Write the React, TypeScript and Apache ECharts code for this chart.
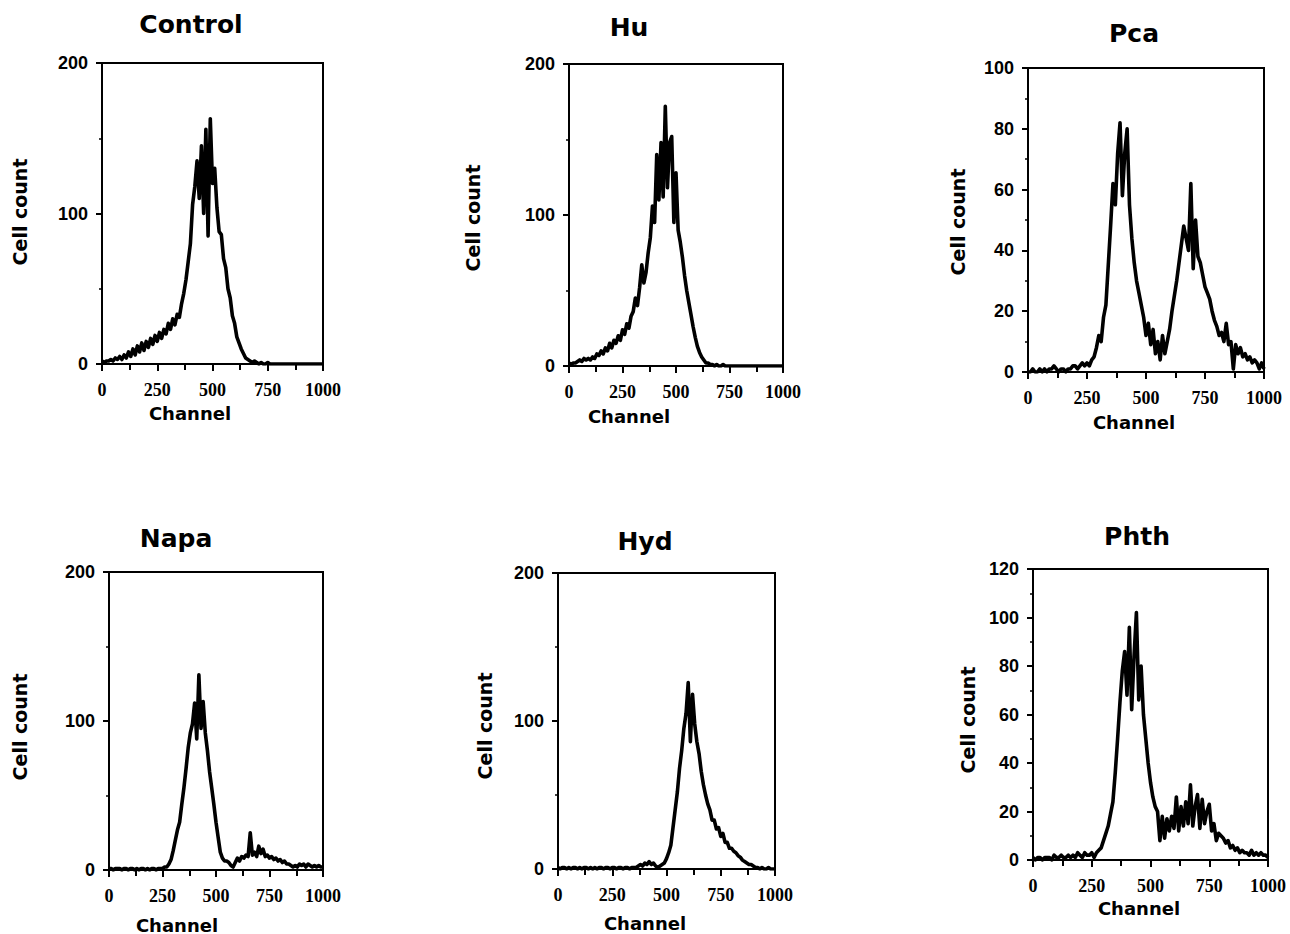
import React, { useEffect, useRef } from "react";
import * as echarts from "echarts";

// Channel bins (x values)
const CHANNELS = [
  0, 10, 20, 30, 40, 50, 60, 70, 80, 90, 100, 110, 120, 130, 140, 150, 160, 170, 180, 190,
  200, 210, 220, 230, 240, 250, 260, 270, 280, 290, 300, 310, 320, 330, 340, 350, 360, 370, 380, 390,
  400, 410, 420, 430, 440, 450, 460, 470, 480, 490, 500, 510, 520, 530, 540, 550, 560, 570, 580, 590,
  600, 610, 620, 630, 640, 650, 660, 670, 680, 690, 700, 710, 720, 730, 740, 750, 760, 770, 780, 790,
  800, 810, 820, 830, 840, 850, 860, 870, 880, 890, 900, 910, 920, 930, 940, 950, 960, 970, 980, 990, 1000,
];

const CONTROL = [
  2, 1, 2, 2, 3, 2, 4, 3, 5, 3,
  6, 4, 8, 5, 10, 6, 12, 8, 14, 9,
  15, 11, 17, 13, 19, 15, 21, 17, 23, 20,
  27, 23, 30, 26, 33, 31, 40, 47, 56, 68,
  80, 106, 118, 135, 110, 145, 100, 156, 85, 163,
  120, 130, 104, 88, 86, 70, 64, 50, 44, 32,
  27, 18, 14, 10, 7, 4, 3, 2, 1, 2,
  1, 0, 1, 0, 0, 1, 0, 0, 0, 0,
  0, 0, 0, 0, 0, 0, 0, 0, 0, 0,
  0, 0, 0, 0, 0, 0, 0, 0, 0, 0, 0,
];

const HU = [
  2, 1, 2, 2, 3, 4, 3, 5, 4, 5,
  4, 6, 5, 8, 7, 10, 8, 12, 10, 15,
  12, 17, 15, 20, 17, 24, 21, 28, 25, 33,
  36, 45, 40, 52, 67, 55, 62, 75, 85, 106,
  95, 140, 110, 148, 112, 172, 118, 148, 152, 95,
  128, 90, 82, 72, 60, 50, 42, 34, 26, 19,
  13, 9, 6, 4, 2, 2, 1, 1, 0, 1,
  0, 0, 1, 0, 0, 0, 0, 0, 0, 0,
  0, 0, 0, 0, 0, 0, 0, 0, 0, 0,
  0, 0, 0, 0, 0, 0, 0, 0, 0, 0, 0,
];

const PCA = [
  0, 0, 1, 0, 0, 1, 0, 1, 0, 1,
  1, 2, 1, 0, 1, 1, 0, 1, 1, 2,
  2, 1, 2, 3, 2, 3, 2, 4, 5, 8,
  12, 10, 18, 22, 35, 48, 62, 55, 72, 82,
  58, 72, 80, 55, 44, 36, 30, 26, 22, 18,
  12, 16, 9, 14, 6, 10, 4, 12, 6, 10,
  14, 20, 25, 30, 36, 42, 48, 44, 40, 62,
  34, 50, 38, 36, 32, 28, 26, 24, 20, 17,
  15, 12, 13, 10, 16, 9, 10, 1, 9, 6,
  8, 5, 6, 4, 5, 3, 4, 3, 1, 3, 1,
];

const NAPA = [
  1, 1, 0, 1, 1, 1, 0, 1, 1, 0,
  1, 1, 0, 1, 0, 1, 1, 0, 1, 0,
  1, 1, 0, 1, 1, 1, 2, 2, 4, 7,
  13, 20, 27, 32, 44, 55, 68, 82, 92, 98,
  112, 88, 131, 95, 113, 92, 80, 66, 55, 44,
  32, 22, 12, 8, 6, 6, 5, 3, 2, 5,
  8, 6, 9, 8, 10, 9, 25, 10, 12, 9,
  16, 11, 14, 9, 10, 8, 9, 7, 8, 6,
  7, 5, 6, 4, 4, 3, 2, 3, 2, 4,
  3, 4, 2, 4, 3, 2, 3, 2, 3, 2, 2,
];

const HYD = [
  1, 0, 1, 1, 0, 1, 0, 1, 1, 0,
  1, 0, 1, 1, 0, 1, 0, 1, 0, 1,
  1, 0, 1, 1, 0, 1, 1, 0, 1, 1,
  0, 1, 1, 0, 1, 1, 1, 2, 3, 2,
  4, 3, 5, 3, 4, 2, 1, 2, 3, 4,
  7, 11, 16, 28, 40, 52, 68, 80, 95, 105,
  126, 86, 118, 98, 86, 78, 66, 57, 50, 44,
  40, 33, 33, 27, 28, 22, 24, 18, 18, 14,
  14, 12, 11, 9, 8, 6, 5, 4, 3, 3,
  2, 1, 1, 0, 1, 0, 0, 1, 0, 0, 0,
];

const PHTH = [
  1, 0, 1, 1, 0, 1, 1, 1, 0, 2,
  1, 1, 2, 1, 1, 2, 1, 2, 1, 3,
  2, 1, 3, 2, 2, 3, 1, 3, 4, 5,
  8, 11, 14, 19, 24, 36, 50, 65, 78, 86,
  68, 96, 62, 84, 102, 66, 80, 60, 50, 40,
  32, 26, 22, 20, 8, 18, 9, 17, 12, 18,
  13, 26, 12, 22, 14, 24, 15, 31, 14, 22,
  27, 13, 25, 15, 20, 23, 12, 15, 8, 11,
  10, 9, 7, 8, 5, 6, 4, 5, 3, 4,
  3, 3, 2, 4, 2, 3, 2, 3, 2, 2, 1,
];

const TITLES = ["Control", "Hu", "Pca", "Napa", "Hyd", "Phth"];
const SERIES = [CONTROL, HU, PCA, NAPA, HYD, PHTH];
const Y_MAX = [200, 200, 100, 200, 200, 120];
const Y_STEP = [100, 100, 20, 100, 100, 20];
const X_NAME = "Channel";
const Y_NAME = "Cell count";

// Layout (pixels)
const GRIDS = [
  { left: 102, top: 63, width: 221, height: 301 },
  { left: 569, top: 64, width: 214, height: 302 },
  { left: 1028, top: 68, width: 236, height: 304 },
  { left: 109, top: 572, width: 214, height: 298 },
  { left: 558, top: 573, width: 217, height: 296 },
  { left: 1033, top: 569, width: 235, height: 291 },
];
const TITLE_POS = [
  [191, 24], [629, 27], [1134, 33], [176, 538], [645, 541], [1137, 536],
];
const YNAME_POS = [
  [20, 212], [473, 218], [958, 222], [20, 727], [485, 726], [968, 720],
];
const XNAME_POS = [
  [190, 413], [629, 416], [1134, 422], [177, 925], [645, 923], [1139, 908],
];

const SANS = "'DejaVu Sans', sans-serif";

export default function App() {
  const ref = useRef<HTMLDivElement>(null);

  useEffect(() => {
    if (!ref.current) return;
    const chart = echarts.init(ref.current, undefined, { renderer: "svg" });

    const grid = GRIDS.map((g) => ({
      ...g,
      show: true,
      borderColor: "#000",
      borderWidth: 2,
      backgroundColor: "transparent",
      containLabel: false,
    }));

    const xAxis = GRIDS.map((_, i) => ({
      type: "value",
      gridIndex: i,
      min: 0,
      max: 1000,
      interval: 250,
      axisLine: { show: true, lineStyle: { color: "#000", width: 2 } },
      axisTick: { show: true, length: 7, lineStyle: { color: "#000", width: 2 } },
      minorTick: { show: true, splitNumber: 2, length: 6, lineStyle: { color: "#000", width: 2 } },
      splitLine: { show: false },
      minorSplitLine: { show: false },
      axisLabel: {
        margin: 17,
        color: "#000",
        fontFamily: "'Liberation Serif', serif",
        fontWeight: "bold",
        fontSize: 18,
        formatter: (v: number) => String(v),
      },
    }));

    const yAxis = GRIDS.map((_, i) => ({
      type: "value",
      gridIndex: i,
      min: 0,
      max: Y_MAX[i],
      interval: Y_STEP[i],
      axisLine: { show: true, lineStyle: { color: "#000", width: 2 } },
      axisTick: { show: true, length: 6, lineStyle: { color: "#000", width: 2 } },
      minorTick: { show: true, splitNumber: 2, length: 3, lineStyle: { color: "#000", width: 1.5 } },
      splitLine: { show: false },
      minorSplitLine: { show: false },
      axisLabel: {
        margin: 14,
        color: "#000",
        fontFamily: "'Liberation Sans', Arial, sans-serif",
        fontWeight: "bold",
        fontSize: 18,
        formatter: (v: number) => String(v),
      },
    }));

    const series = SERIES.map((vals, i) => ({
      type: "line",
      xAxisIndex: i,
      yAxisIndex: i,
      showSymbol: false,
      symbol: "none",
      lineStyle: { color: "#000", width: 3.6, join: "round" },
      data: CHANNELS.map((c, k) => [c, vals[k]]),
      clip: true,
    }));

    const graphic: any[] = [];
    TITLES.forEach((t, i) => {
      graphic.push({
        type: "text",
        x: TITLE_POS[i][0],
        y: TITLE_POS[i][1],
        style: {
          text: t,
          fill: "#000",
          fontFamily: SANS,
          fontWeight: "bold",
          fontSize: 25,
          align: "center",
          verticalAlign: "middle",
        },
      });
      graphic.push({
        type: "text",
        x: YNAME_POS[i][0],
        y: YNAME_POS[i][1],
        rotation: Math.PI / 2,
        style: {
          text: Y_NAME,
          fill: "#000",
          fontFamily: SANS,
          fontWeight: "bold",
          fontSize: 19,
          align: "center",
          verticalAlign: "middle",
        },
      });
      graphic.push({
        type: "text",
        x: XNAME_POS[i][0],
        y: XNAME_POS[i][1],
        style: {
          text: X_NAME,
          fill: "#000",
          fontFamily: SANS,
          fontWeight: "bold",
          fontSize: 18,
          align: "center",
          verticalAlign: "middle",
        },
      });
    });

    chart.setOption({
      animation: false,
      backgroundColor: "#fff",
      grid,
      xAxis,
      yAxis,
      series,
      graphic,
    } as any);

    return () => chart.dispose();
  }, []);

  return (
    <div
      ref={ref}
      style={{ position: "absolute", left: 0, top: 0, width: 1290, height: 934 }}
    />
  );
}
